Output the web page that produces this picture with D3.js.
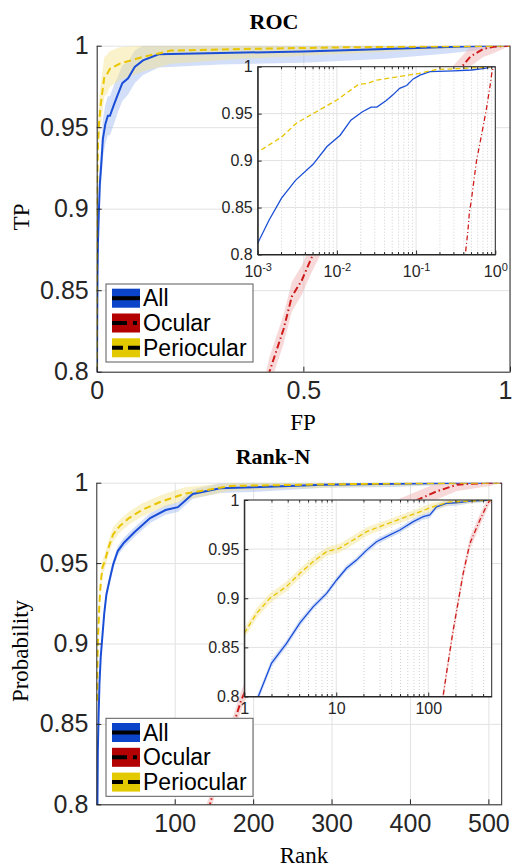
<!DOCTYPE html>
<html>
<head>
<meta charset="utf-8">
<script src="https://cdn.jsdelivr.net/npm/d3@7/dist/d3.min.js"></script>
<style>
body { margin: 0; background: #fff; }
</style>
</head>
<body>
<div id="chart"></div>
<script>
var seriesNames = ["All", "Ocular", "Periocular"];

// ROC: false positive rate, true positive rate, half width of the shaded band
var rocAllFP  = [0.0001, 0.001, 0.0014, 0.002, 0.003, 0.005, 0.0075, 0.011, 0.015, 0.021, 0.027, 0.032, 0.042, 0.051, 0.062, 0.076, 0.092, 0.112, 0.15, 0.3, 0.5, 0.7, 0.85, 0.95, 1];
var rocAllTP  = [0.70, 0.812, 0.837, 0.860, 0.879, 0.896, 0.915, 0.927, 0.943, 0.952, 0.957, 0.957, 0.964, 0.970, 0.977, 0.980, 0.987, 0.991, 0.9947, 0.9955, 0.9965, 0.998, 0.9992, 1, 1];
var rocAllErr = [0.010, 0.010, 0.010, 0.010, 0.010, 0.010, 0.011, 0.011, 0.012, 0.012, 0.012, 0.012, 0.012, 0.011, 0.011, 0.010, 0.010, 0.009, 0.008, 0.007, 0.007, 0.006, 0.004, 0.002, 0];

var rocOcuFP  = [0.40, 0.418, 0.452, 0.472, 0.496, 0.52, 0.58, 0.68, 0.78, 0.86, 0.904, 0.935, 0.96, 1];
var rocOcuTP  = [0.78, 0.80, 0.826, 0.846, 0.856, 0.87, 0.90, 0.93, 0.957, 0.98, 0.9933, 0.998, 0.9994, 1];
var rocOcuErr = [0.009, 0.009, 0.009, 0.009, 0.009, 0.009, 0.009, 0.009, 0.008, 0.007, 0.006, 0.005, 0.004, 0];

var rocPeriFP  = [0.0001, 0.001, 0.002, 0.0031, 0.0055, 0.01, 0.0186, 0.0237, 0.032, 0.056, 0.11, 0.18, 0.35, 0.6, 1];
var rocPeriTP  = [0.70, 0.909, 0.925, 0.940, 0.952, 0.9645, 0.981, 0.982, 0.9858, 0.989, 0.993, 0.997, 0.998, 0.999, 1];
var rocPeriErr = [0.014, 0.014, 0.014, 0.014, 0.014, 0.013, 0.012, 0.012, 0.011, 0.010, 0.009, 0.008, 0.006, 0.004, 0];

// Rank-N: rank, identification probability, half width of the shaded band
var rankAllR   = [1, 1.42, 1.98, 2.88, 4.03, 5.63, 7.85, 10.1, 12.9, 16.6, 21.4, 27.4, 35.2, 49.2, 68.7, 88.3, 104, 123, 158, 200, 290, 380, 468, 517];
var rankAllP   = [0.77, 0.80, 0.834, 0.854, 0.875, 0.8915, 0.905, 0.9186, 0.9305, 0.9388, 0.949, 0.9575, 0.9627, 0.9695, 0.978, 0.983, 0.9848, 0.993, 0.9966, 0.9972, 0.9988, 0.9994, 1, 1];
var rankAllErr = [0.004, 0.004, 0.004, 0.0035, 0.0035, 0.003, 0.003, 0.003, 0.003, 0.003, 0.003, 0.003, 0.003, 0.003, 0.003, 0.003, 0.003, 0.003, 0.003, 0.003, 0.002, 0.002, 0.001, 0];

var rankOcuR   = [130, 145, 158, 185, 240, 284, 365, 434, 460, 502, 517];
var rankOcuP   = [0.78, 0.80, 0.8237, 0.865, 0.9254, 0.9559, 0.9797, 0.9946, 0.9988, 1, 1];
var rankOcuErr = [0.006, 0.006, 0.006, 0.006, 0.006, 0.006, 0.006, 0.005, 0.004, 0.002, 0];

var rankPeriR   = [1, 1.36, 1.9, 2.88, 4.03, 5.63, 7.85, 10.9, 15.3, 21.4, 29.8, 41.7, 58.1, 81.2, 113, 172, 300, 468, 517];
var rankPeriP   = [0.8644, 0.8847, 0.9, 0.912, 0.9254, 0.9373, 0.9475, 0.951, 0.9593, 0.9678, 0.973, 0.978, 0.983, 0.988, 0.9932, 0.998, 0.999, 1, 1];
var rankPeriErr = [0.005, 0.005, 0.005, 0.005, 0.005, 0.005, 0.0045, 0.0045, 0.0045, 0.0045, 0.004, 0.004, 0.004, 0.004, 0.004, 0.003, 0.002, 0.001, 0];

// ticks
var yTicks = [0.8, 0.85, 0.9, 0.95, 1];
var rocXTicks = [0, 0.5, 1];
var rocInsetXTicks = [0.001, 0.01, 0.1, 1];
var rankXTicks = [100, 200, 300, 400, 500];
var rankInsetXTicks = [1, 10, 100];

var W = 513, H = 867;
var sans = "'Liberation Sans', Arial, Helvetica, sans-serif";
var serif = "'Liberation Serif', 'Times New Roman', serif";
var axisColor = "#262626";
var gridColor = "#e2e2e2";

var lineColor  = {All: "#1a4ed6", Ocular: "#cf1a1a", Periocular: "#e9c500"};
var patchColor = {All: "#0b44c8", Ocular: "#b30000", Periocular: "#e3ca00"};
var bandColor  = {All: "#9db8f2", Ocular: "#eeaaaa", Periocular: "#f3e28a"};
var dashMain   = {All: null, Ocular: "7,3,1.5,3", Periocular: "7,4"};
var dashInset  = {All: null, Ocular: "5,2.5,1,2.5", Periocular: "5,3"};
var dashLegend = {All: null, Ocular: "15,6,4,10", Periocular: "11,5,12"};

var svg = d3.select("#chart").append("svg").attr("width", W).attr("height", H);
var defs = svg.append("defs");
var nClip = 0;

function makeSeries(xs, ys, es) {
  return xs.map(function(v, i) { return {x: v, y: ys[i], e: es[i]}; });
}

function clipRect(b) {
  var id = "clip" + (nClip++);
  defs.append("clipPath").attr("id", id).append("rect")
    .attr("x", b.left).attr("y", b.top)
    .attr("width", b.right - b.left).attr("height", b.bottom - b.top);
  return "url(#" + id + ")";
}

function styleAxis(sel, size) {
  sel.attr("font-family", sans).attr("font-size", size).style("color", axisColor);
}

function drawCurves(g, x, y, series, bands, dash, lw) {
  var area = d3.area().x(d => x(d.x)).y0(d => y(d.y - d.e)).y1(d => y(Math.min(1, d.y + d.e)));
  var line = d3.line().x(d => x(d.x)).y(d => y(d.y));
  if (bands) {
    g.selectAll(null).data(series).enter().append("path")
      .attr("d", d => area(d.pts))
      .attr("fill", d => bandColor[d.name])
      .attr("fill-opacity", 0.45);
  }
  g.selectAll(null).data(series).enter().append("path")
    .attr("d", d => line(d.pts))
    .attr("fill", "none")
    .attr("stroke", d => lineColor[d.name])
    .attr("stroke-width", lw)
    .attr("stroke-dasharray", d => dash[d.name]);
}

function isPow10(v) {
  var l = Math.log10(v);
  return Math.abs(l - Math.round(l)) < 1e-6;
}

function drawPanel(p) {
  var b = p.box, g = svg.append("g");
  var x = d3.scaleLinear().domain(p.xDomain).range([b.left, b.right]);
  var y = d3.scaleLinear().domain([0.8, 1]).range([b.bottom, b.top]);

  // grid
  g.append("g").attr("transform", "translate(0," + b.bottom + ")")
    .call(d3.axisBottom(x).tickValues(p.xTicks).tickSize(-(b.bottom - b.top)).tickFormat(""))
    .call(a => a.select(".domain").remove())
    .selectAll("line").attr("stroke", gridColor);
  g.append("g").attr("transform", "translate(" + b.left + ",0)")
    .call(d3.axisLeft(y).tickValues(yTicks).tickSize(-(b.right - b.left)).tickFormat(""))
    .call(a => a.select(".domain").remove())
    .selectAll("line").attr("stroke", gridColor);

  var cg = g.append("g").attr("clip-path", clipRect(b));
  drawCurves(cg, x, y, p.series, true, dashMain, 2);

  // axes
  var mx = g.append("g").attr("transform", "translate(0," + b.bottom + ")")
    .call(d3.axisBottom(x).tickValues(p.xTicks).tickSize(-5).tickSizeOuter(0).tickPadding(10).tickFormat(d3.format("~g")))
    .call(styleAxis, 25);
  // keep the last label inside the page
  mx.selectAll(".tick text").each(function(d) {
    var bb = this.getBBox(), right = x(d) + bb.x + bb.width;
    if (right > W - 1) d3.select(this).attr("dx", W - 1 - right);
  });
  g.append("g").attr("transform", "translate(" + b.left + ",0)")
    .call(d3.axisLeft(y).tickValues(yTicks).tickSize(-5).tickSizeOuter(0).tickPadding(8).tickFormat(d3.format("~g")))
    .call(styleAxis, 25);
  g.append("line").attr("x1", b.right).attr("x2", b.right).attr("y1", b.top).attr("y2", b.bottom)
    .attr("stroke", axisColor);

  // inset
  var ib = p.inset;
  var xi = d3.scaleLog().domain(p.insetXDomain).range([ib.left, ib.right]);
  var yi = d3.scaleLinear().domain([0.8, 1]).range([ib.bottom, ib.top]);
  var ig = svg.append("g");
  ig.append("rect").attr("x", ib.left).attr("y", ib.top)
    .attr("width", ib.right - ib.left).attr("height", ib.bottom - ib.top).attr("fill", "#fff");
  var minor = xi.ticks().filter(v => !isPow10(v));
  ig.selectAll(null).data(minor).enter().append("line")
    .attr("x1", d => xi(d)).attr("x2", d => xi(d)).attr("y1", ib.top).attr("y2", ib.bottom)
    .attr("stroke", "#d0d0d0").attr("stroke-dasharray", "1,2");
  ig.selectAll(null).data(p.insetXTicks).enter().append("line")
    .attr("x1", d => xi(d)).attr("x2", d => xi(d)).attr("y1", ib.top).attr("y2", ib.bottom)
    .attr("stroke", gridColor);
  ig.selectAll(null).data(yTicks).enter().append("line")
    .attr("x1", ib.left).attr("x2", ib.right).attr("y1", d => yi(d)).attr("y2", d => yi(d))
    .attr("stroke", gridColor);

  var icg = ig.append("g").attr("clip-path", clipRect(ib));
  drawCurves(icg, xi, yi, p.series, p.insetBands, dashInset, 1.3);

  // inset minor ticks top and bottom
  ig.selectAll(null).data(minor).enter().append("path")
    .attr("d", d => "M" + xi(d) + "," + ib.bottom + "v-2.5M" + xi(d) + "," + ib.top + "v2.5")
    .attr("stroke", axisColor);

  var xa = ig.append("g").attr("transform", "translate(0," + ib.bottom + ")")
    .call(d3.axisBottom(xi).tickValues(p.insetXTicks).tickSize(-4).tickSizeOuter(0).tickPadding(p.insetPad).tickFormat(d3.format("d")))
    .call(styleAxis, 16);
  if (p.insetSup) {
    xa.selectAll(".tick text").each(function(d) {
      var t = d3.select(this).text("");
      t.append("tspan").text("10");
      t.append("tspan").attr("dy", "-0.55em").attr("font-size", 11).text(Math.round(Math.log10(d)));
    });
  }
  ig.append("g").attr("transform", "translate(" + ib.left + ",0)")
    .call(d3.axisLeft(yi).tickValues(yTicks).tickSize(-4).tickSizeOuter(0).tickPadding(5).tickFormat(d3.format("~g")))
    .call(styleAxis, 16);
  ig.append("rect").attr("x", ib.left).attr("y", ib.top)
    .attr("width", ib.right - ib.left).attr("height", ib.bottom - ib.top)
    .attr("fill", "none").attr("stroke", axisColor);

  // legend
  var lg = svg.append("g").attr("transform", "translate(" + p.legend.left + "," + p.legend.top + ")");
  lg.append("rect").attr("width", 147).attr("height", 78)
    .attr("fill", "#fff").attr("stroke", "#5a5a5a");
  var rows = lg.selectAll(null).data(p.series).enter().append("g")
    .attr("transform", (d, i) => "translate(0," + (14.2 + i * 24.8) + ")");
  rows.append("rect").attr("x", 6).attr("y", -9.5).attr("width", 28).attr("height", 19)
    .attr("fill", d => patchColor[d.name]);
  rows.append("line").attr("x1", 6).attr("x2", 34)
    .attr("stroke", "#000").attr("stroke-width", 4)
    .attr("stroke-dasharray", d => dashLegend[d.name]);
  rows.append("text").attr("x", 37).attr("dy", "0.35em")
    .attr("font-family", sans).attr("font-size", 23).attr("fill", "#000")
    .text(d => d.name);

  // title and axis labels
  svg.append("text").attr("x", p.titleX).attr("y", p.titleY).attr("text-anchor", "middle")
    .attr("font-family", serif).attr("font-weight", "bold").attr("font-size", 22)
    .text(p.title);
  svg.append("text").attr("x", p.xLabelX).attr("y", p.xLabelY).attr("text-anchor", "middle")
    .attr("font-family", serif).attr("font-size", 23)
    .text(p.xLabel);
  svg.append("text").attr("transform", "translate(" + p.yLabelX + "," + p.yLabelY + ") rotate(-90)")
    .attr("text-anchor", "middle")
    .attr("font-family", serif).attr("font-size", 23)
    .text(p.yLabel);
}

drawPanel({
  title: "ROC", titleX: 274, titleY: 29,
  xLabel: "FP", xLabelX: 303, xLabelY: 430,
  yLabel: "TP", yLabelX: 29, yLabelY: 217,
  box: {left: 96.7, right: 510, top: 45.7, bottom: 371.7},
  xDomain: [0, 1], xTicks: rocXTicks,
  inset: {left: 257.7, right: 495.3, top: 66.7, bottom: 254.5},
  insetXDomain: [0.001, 1], insetXTicks: rocInsetXTicks, insetBands: false, insetSup: true, insetPad: 11,
  legend: {left: 106, top: 284},
  series: [
    {name: seriesNames[0], pts: makeSeries(rocAllFP, rocAllTP, rocAllErr)},
    {name: seriesNames[1], pts: makeSeries(rocOcuFP, rocOcuTP, rocOcuErr)},
    {name: seriesNames[2], pts: makeSeries(rocPeriFP, rocPeriTP, rocPeriErr)}
  ]
});

drawPanel({
  title: "Rank-N", titleX: 273, titleY: 464,
  xLabel: "Rank", xLabelX: 304, xLabelY: 863,
  yLabel: "Probability", yLabelX: 28, yLabelY: 651,
  box: {left: 96.3, right: 501.7, top: 482.7, bottom: 804.3},
  xDomain: [0, 517], xTicks: rankXTicks,
  inset: {left: 244.3, right: 491.7, top: 500, bottom: 696.5},
  insetXDomain: [1, 490], insetXTicks: rankInsetXTicks, insetBands: true, insetSup: false, insetPad: 6,
  legend: {left: 106, top: 718.3},
  series: [
    {name: seriesNames[0], pts: makeSeries(rankAllR, rankAllP, rankAllErr)},
    {name: seriesNames[1], pts: makeSeries(rankOcuR, rankOcuP, rankOcuErr)},
    {name: seriesNames[2], pts: makeSeries(rankPeriR, rankPeriP, rankPeriErr)}
  ]
});
</script>
</body>
</html>
